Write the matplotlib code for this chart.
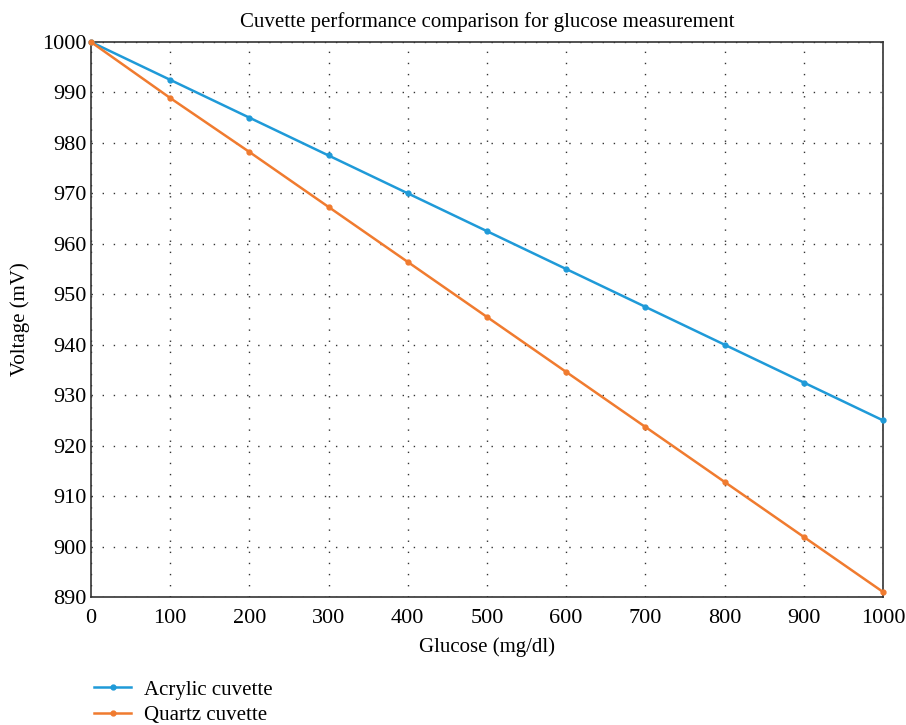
import matplotlib.pyplot as plt

glucose = [0, 100, 200, 300, 400, 500, 600, 700, 800, 900, 1000]
acrylic = [1000, 992.5, 985, 977.5, 970, 962.5, 955, 947.5, 940, 932.5, 925]
quartz = [1000, 988.9, 978.2, 967.3, 956.4, 945.5, 934.6, 923.7, 912.8, 901.9, 891]

plt.rcParams['font.family'] = ['Liberation Serif', 'DejaVu Serif']

fig = plt.figure(figsize=(9.06, 7.25), dpi=100)
ax = fig.add_axes([0.1004, 0.1766, 0.8742, 0.7655])

ax.plot(glucose, acrylic, color='#1f9ad8', lw=1.8, marker='o', ms=3.5,
        label='Acrylic cuvette', clip_on=False, zorder=3)
ax.plot(glucose, quartz, color='#f07b2f', lw=1.8, marker='o', ms=3.5,
        label='Quartz cuvette', clip_on=False, zorder=3)

ax.set_xlim(0, 1000)
ax.set_ylim(890, 1000)
ax.set_xticks(range(0, 1001, 100))
ax.set_yticks(range(890, 1001, 10))
ax.grid(True, color='#333333', linestyle=(0, (1, 7)), lw=1)
ax.tick_params(length=0, labelsize=16)
ax.tick_params(axis='x', pad=9)
ax.tick_params(axis='y', pad=3)
for s in ax.spines.values():
    s.set_color('#333333')
    s.set_linewidth(1.2)

ax.set_title('Cuvette performance comparison for glucose measurement', fontsize=15, pad=11)
ax.set_xlabel('Glucose (mg/dl)', fontsize=15, labelpad=6)
ax.set_ylabel('Voltage (mV)', fontsize=15, labelpad=9)

fig.legend(loc='upper left', bbox_to_anchor=(0.083, 0.088), frameon=False,
           fontsize=15, handlelength=1.8, handletextpad=0.6, labelspacing=0.3,
           borderpad=0.4)

fig.savefig('out.png', dpi=100)
